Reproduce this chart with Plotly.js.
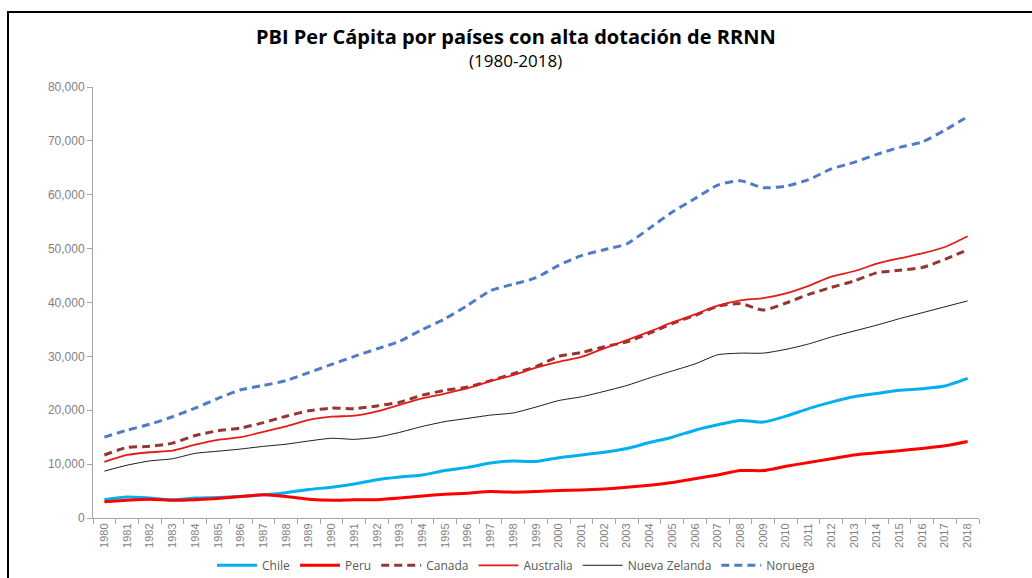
<!DOCTYPE html>
<html>
<head>
<meta charset="utf-8">
<script src="https://cdn.plot.ly/plotly-3.0.1.min.js"></script>
<style>
html,body{margin:0;padding:0;background:#fff;}
#wrap{position:relative;width:1032px;height:578px;overflow:hidden;}
#chart{position:absolute;left:0;top:0;width:1032px;height:578px;}
#frame{position:absolute;left:7px;top:11px;width:1040px;height:600px;border:2px solid #000;pointer-events:none;box-sizing:border-box;}
</style>
</head>
<body>
<div id="wrap"><div id="chart"></div><div id="frame"></div></div>
<script>
const years = ["1980","1981","1982","1983","1984","1985","1986","1987","1988","1989","1990","1991","1992","1993","1994","1995","1996","1997","1998","1999","2000","2001","2002","2003","2004","2005","2006","2007","2008","2009","2010","2011","2012","2013","2014","2015","2016","2017","2018"];

const chile = [3400,3900,3700,3400,3700,3800,4000,4300,4700,5300,5700,6300,7100,7600,8000,8800,9400,10200,10600,10500,11200,11700,12200,12900,14000,15000,16300,17300,18100,17800,18900,20300,21500,22500,23100,23700,24000,24500,25900];
const peru = [3000,3300,3500,3300,3400,3600,4000,4300,4000,3500,3300,3400,3400,3700,4100,4400,4600,4900,4800,4900,5100,5200,5400,5700,6100,6600,7300,8000,8800,8800,9600,10300,11000,11700,12100,12500,12900,13400,14200];
const canada = [11700,13100,13300,13900,15300,16200,16700,17700,18900,19900,20400,20300,20800,21500,22800,23700,24300,25500,26800,28100,30000,30700,31800,32700,34300,36100,37600,39300,39800,38600,39900,41500,42800,44000,45500,46000,46500,48000,49800];
const australia = [10400,11700,12200,12500,13600,14500,15000,16000,17000,18200,18800,19000,19800,21000,22200,23100,24100,25400,26500,27900,29000,29900,31500,33000,34600,36300,37800,39400,40400,40800,41700,43100,44800,45800,47200,48200,49100,50300,52300];
const nuevaZelanda = [8700,9800,10600,11000,12000,12400,12800,13300,13700,14300,14800,14600,15000,15900,17000,17900,18500,19100,19500,20600,21800,22500,23500,24600,26000,27300,28600,30300,30600,30600,31300,32300,33600,34700,35800,37000,38100,39200,40300];
const noruega = [15000,16300,17400,18800,20400,22200,23800,24600,25500,27000,28500,30000,31400,32800,35000,37000,39500,42200,43400,44600,46900,48700,49800,50900,53800,56800,59300,61800,62600,61300,61600,62800,64800,66000,67500,68800,69800,72000,74500];

const yTicks = [0,10000,20000,30000,40000,50000,60000,70000,80000];
const yTickText = ["0","10,000","20,000","30,000","40,000","50,000","60,000","70,000","80,000"];

function tr(name, y, color, width, dash){
  return {type:'scatter', mode:'lines', name:name, x:years, y:y,
    line:{color:color, width:width, dash:dash||'solid', shape:'spline', smoothing:0.6},
    hoverinfo:'x+y+name'};
}

const data = [
  tr('Chile', chile, '#00B0F0', 3),
  tr('Peru', peru, '#FF0000', 3),
  tr('Canada', canada, '#943634', 3, '8px,5px'),
  tr('Australia', australia, '#E41B17', 1.8),
  tr('Nueva Zelanda', nuevaZelanda, '#1a1a1a', 1),
  tr('Noruega', noruega, '#4F7BC8', 3, '8px,5px')
];

const layout = {
  width:1032, height:578,
  margin:{l:93, r:53, t:87, b:60},
  paper_bgcolor:'#fff', plot_bgcolor:'#fff',
  font:{family:'"Liberation Sans", Arial, sans-serif', color:'#595959'},
  showlegend:true,
  legend:{orientation:'h', x:0.5, xref:'container', xanchor:'center', y:0.022, yref:'container', yanchor:'middle',
    font:{size:12, color:'#595959', family:'"Open Sans", sans-serif'}, traceorder:'normal', itemwidth:40},
  xaxis:{type:'category', tickangle:-90, tickfont:{size:11, color:'#7f7f7f'},
    showgrid:false, zeroline:false, showline:true, linecolor:'#a6a6a6', linewidth:1,
    ticks:'outside', ticklen:5, tickcolor:'#a6a6a6', tickson:'boundaries',
    range:[-0.5, 38.5], fixedrange:true, automargin:false},
  yaxis:{range:[0,80000], tickvals:yTicks, ticktext:yTickText, tickfont:{size:12, color:'#7f7f7f'},
    showgrid:false, zeroline:false, showline:true, linecolor:'#a6a6a6', linewidth:1,
    ticks:'outside', ticklen:5, tickcolor:'#a6a6a6', fixedrange:true, automargin:false},
  annotations:[
    {xref:'paper', yref:'paper', x:0.477, y:1, yshift:51, xanchor:'center', yanchor:'middle', showarrow:false,
     text:'<b>PBI Per Cápita por países con alta dotación de RRNN</b>',
     font:{size:20, color:'#000', family:'"Open Sans", sans-serif'}},
    {xref:'paper', yref:'paper', x:0.477, y:1, yshift:27, xanchor:'center', yanchor:'middle', showarrow:false,
     text:'(1980-2018)', font:{size:17, color:'#000', family:'"Open Sans", sans-serif'}}
  ]
};

Plotly.newPlot('chart', data, layout, {displayModeBar:false, staticPlot:true});
</script>
</body>
</html>
